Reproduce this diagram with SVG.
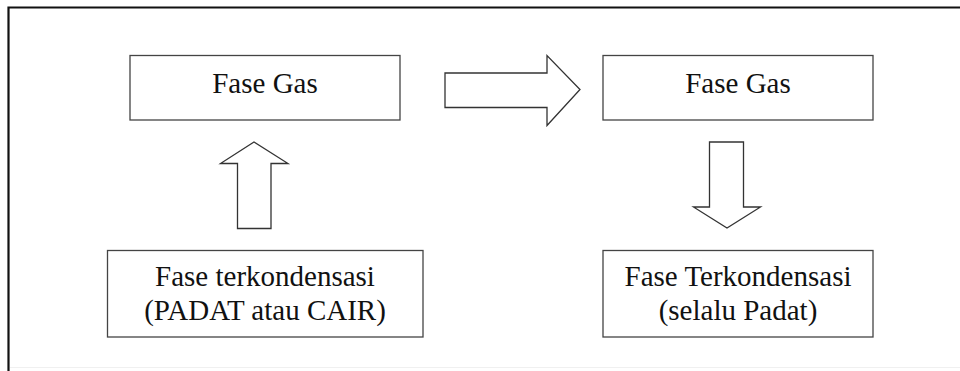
<svg xmlns="http://www.w3.org/2000/svg" width="960" height="371" viewBox="0 0 960 371">
<style>
.box{fill:#fff;stroke:#444;stroke-width:1.3}
.arr{fill:#fff;stroke:#333;stroke-width:1.3;stroke-linejoin:miter}
text{font-family:"Liberation Serif","Times New Roman",serif;font-size:29px;fill:#111;text-anchor:middle}
</style>
<rect width="960" height="371" fill="#fff"/>
<path d="M960 7.5H8.5V371" fill="none" stroke="#111" stroke-width="2.2"/>
<line x1="10" y1="367.5" x2="960" y2="367.5" stroke="#f0f0f0" stroke-width="1"/>
<g id="connectors">
<polygon class="arr" points="445,73 547,73 547,55.5 580,89.5 547,125.5 547,107.5 445,107.5"/>
<polygon class="arr" points="237.5,228.5 237.5,163.5 220.5,163.5 254,142 288,163.5 271,163.5 271,228.5"/>
<polygon class="arr" points="709.5,142 743.5,142 743.5,207 760.5,207 727,228 693.5,207 709.5,207"/>
</g>
<g id="n1">
<rect class="box" x="130" y="55.5" width="270" height="64.5"/>
<text x="265" y="93">Fase Gas</text>
</g>
<g id="n2">
<rect class="box" x="603" y="55.5" width="270" height="64.5"/>
<text x="738" y="93">Fase Gas</text>
</g>
<g id="n3">
<rect class="box" x="107.5" y="250.5" width="315.5" height="86.5"/>
<text x="265" y="286">Fase terkondensasi</text>
<text x="265" y="320">(PADAT atau CAIR)</text>
</g>
<g id="n4">
<rect class="box" x="603" y="250.5" width="270" height="86.5"/>
<text x="738" y="286">Fase Terkondensasi</text>
<text x="738" y="320">(selalu Padat)</text>
</g>
</svg>
